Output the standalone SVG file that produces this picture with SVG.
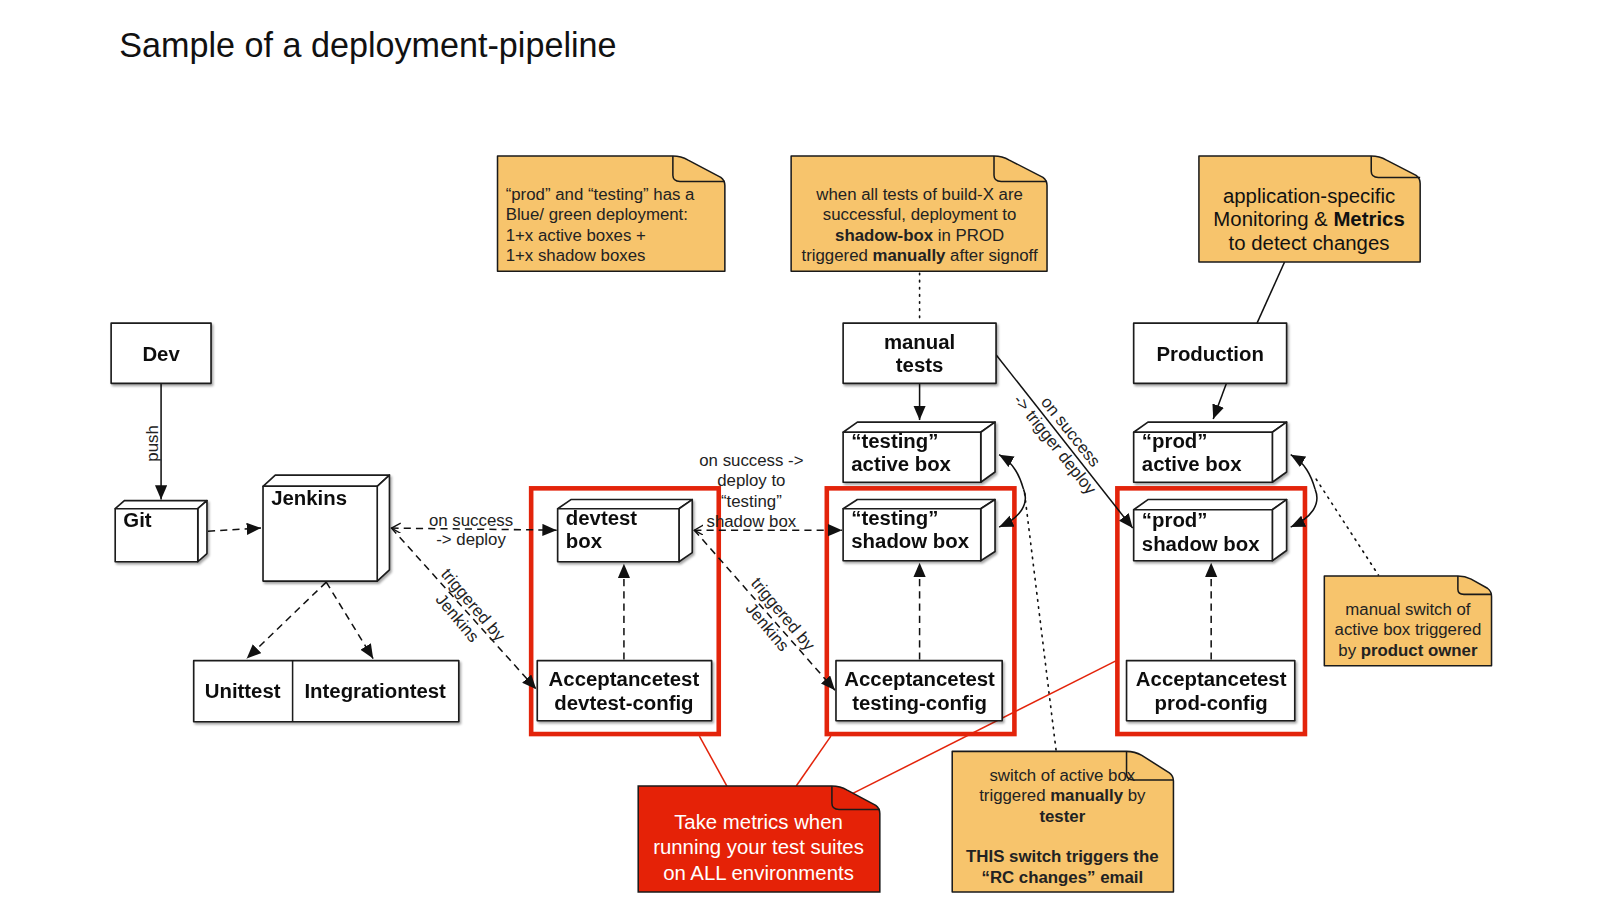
<svg xmlns="http://www.w3.org/2000/svg" width="1600" height="900" viewBox="0 0 1600 900">
<defs>
<filter id="sh" x="-10%" y="-10%" width="130%" height="130%"><feDropShadow dx="1.5" dy="2" stdDeviation="1.2" flood-color="#000" flood-opacity="0.35"/></filter>
<marker id="ah" markerUnits="userSpaceOnUse" markerWidth="15" markerHeight="13" refX="14" refY="6" orient="auto"><path d="M0,0 L14,6 L0,12 z" fill="#111"/></marker>
<marker id="oc" markerUnits="userSpaceOnUse" markerWidth="12" markerHeight="12" refX="9" refY="5" orient="auto-start-reverse"><path d="M0,0 L9,5 L0,10" fill="none" stroke="#111" stroke-width="1.3"/></marker>
<style>
.b{fill:#fff;stroke:#1a1a1a;stroke-width:1.6;stroke-linejoin:round}
.n{fill:#f7c46c;stroke:#1a1a1a;stroke-width:1.5;stroke-linejoin:round}
.f{fill:none;stroke:#1a1a1a;stroke-width:1.5}
.t{font-family:"Liberation Sans",Arial,sans-serif;font-weight:bold;font-size:20px;fill:#111}
.tc{font-family:"Liberation Sans",Arial,sans-serif;font-weight:bold;font-size:20px;fill:#111;text-anchor:middle}
.c{font-family:"Liberation Sans",Arial,sans-serif;font-size:16.5px;fill:#222}
.cm{font-family:"Liberation Sans",Arial,sans-serif;font-size:16.5px;fill:#222;text-anchor:middle}
.nb{font-family:"Liberation Sans",Arial,sans-serif;font-size:20px;text-anchor:middle}
.s{fill:none;stroke:#111;stroke-width:1.5}
.d{fill:none;stroke:#111;stroke-width:1.5;stroke-dasharray:7 5}
.o{fill:none;stroke:#111;stroke-width:1.6;stroke-dasharray:1.5 5.5;stroke-linecap:round}
.r{fill:none;stroke:#e3240b;stroke-width:4.5}
.rl{fill:none;stroke:#e3240b;stroke-width:1.5}
</style>
</defs>
<rect width="1600" height="900" fill="#fff"/>
<g id="diagram" transform="scale(1.0195)">
<text x="117" y="56" font-family="Liberation Sans, Arial, sans-serif" font-size="33.5" fill="#111">Sample of a deployment-pipeline</text>

<g id="redframes">
<rect class="r" x="521" y="479" width="184" height="241"/>
<rect class="r" x="811" y="479" width="184" height="241"/>
<rect class="r" x="1096" y="479" width="184" height="241"/>
</g>

<g id="connectors">
<path class="s" d="M158,376 V490" marker-end="url(#ah)"/>
<text class="cm" transform="translate(155,435) rotate(-90)">push</text>
<path class="d" d="M204,521 L256,518" marker-end="url(#ah)"/>
<path class="d" d="M320,571 L242,646" marker-end="url(#ah)"/>
<path class="d" d="M320,571 L366,646" marker-end="url(#ah)"/>
<path class="d" d="M384,518 L546,520" marker-start="url(#oc)" marker-end="url(#ah)"/>
<text class="cm" x="462" y="516">on success</text>
<text class="cm" x="462" y="535">-&gt; deploy</text>
<path class="d" d="M384,518 L526,676" marker-end="url(#ah)"/>
<g transform="translate(456,600) rotate(50)"><text class="cm" y="-5">triggered by</text><text class="cm" y="15">Jenkins</text></g>
<path class="d" d="M612,647 V553" marker-end="url(#ah)"/>
<path class="d" d="M681,520 H826" marker-start="url(#oc)" marker-end="url(#ah)"/>
<text class="cm" x="737" y="457">on success -&gt;</text>
<text class="cm" x="737" y="477">deploy to</text>
<text class="cm" x="737" y="497">“testing”</text>
<text class="cm" x="737" y="517">shadow box</text>
<path class="d" d="M681,520 L819,677" marker-end="url(#ah)"/>
<g transform="translate(760,609) rotate(50)"><text class="cm" y="-5">triggered by</text><text class="cm" y="15">Jenkins</text></g>
<path class="d" d="M902,647 V552" marker-end="url(#ah)"/>
<path class="s" d="M902,376 V412" marker-end="url(#ah)"/>
<path class="s" d="M977,348 L1111,518" marker-end="url(#ah)"/>
<g transform="translate(1042,430) rotate(51.5)"><text class="cm" y="-5">on success</text><text class="cm" y="15">-&gt; trigger deploy</text></g>
<path class="s" d="M1203,376 L1190,411" marker-end="url(#ah)"/>
<path class="d" d="M1188,647 V552" marker-end="url(#ah)"/>
<path class="s" d="M1004,480 C1010,495 1000,508 980,517" marker-end="url(#ah)"/>
<path class="s" d="M1004,480 C1000,466 994,454 980,446" marker-end="url(#ah)"/>
<path class="s" d="M1290,480 C1296,495 1286,508 1266,517" marker-end="url(#ah)"/>
<path class="s" d="M1290,480 C1286,466 1280,454 1266,446" marker-end="url(#ah)"/>
<path class="o" d="M902,268 V316"/>
<path class="s" d="M1260,257 L1233,317"/>
<path class="o" d="M1005,484 L1036,737"/>
<path class="o" d="M1291,470 L1352,564"/>
<path class="rl" d="M686,722 L713,771"/>
<path class="rl" d="M815,722 L781,771"/>
<path class="rl" d="M1095,648 L835,779"/>
</g>

<g id="dev" filter="url(#sh)"><rect class="b" x="109" y="317" width="98" height="59"/><text class="tc" x="158" y="354">Dev</text></g>

<g id="git" filter="url(#sh)">
<path class="b" d="M113,499 L122,491 H203 L194,499 Z"/>
<path class="b" d="M194,499 L203,491 V543 L194,551 Z"/>
<rect class="b" x="113" y="499" width="81" height="52"/>
<text class="t" x="121" y="517">Git</text>
</g>

<g id="jenkins" filter="url(#sh)">
<path class="b" d="M258,477 L270,466 H382 L370,477 Z"/>
<path class="b" d="M370,477 L382,466 V559 L370,570 Z"/>
<rect class="b" x="258" y="477" width="112" height="93"/>
<text class="t" x="266" y="495">Jenkins</text>
</g>

<g id="tests" filter="url(#sh)">
<rect class="b" x="190" y="648" width="260" height="60"/>
<path class="f" d="M287,648 V708"/>
<text class="tc" x="238" y="685">Unittest</text>
<text class="tc" x="368" y="685">Integrationtest</text>
</g>

<g id="devtest-box" filter="url(#sh)">
<path class="b" d="M547,499 L560,490 H679 L666,499 Z"/>
<path class="b" d="M666,499 L679,490 V542 L666,551 Z"/>
<rect class="b" x="547" y="499" width="119" height="52"/>
<text class="t" x="555" y="515">devtest</text>
<text class="t" x="555" y="538">box</text>
</g>

<g id="at-devtest" filter="url(#sh)">
<rect class="b" x="527" y="648" width="171" height="59"/>
<text class="tc" x="612" y="673">Acceptancetest</text>
<text class="tc" x="612" y="696">devtest-config</text>
</g>

<g id="manual-tests" filter="url(#sh)">
<rect class="b" x="827" y="317" width="150" height="59"/>
<text class="tc" x="902" y="342">manual</text>
<text class="tc" x="902" y="365">tests</text>
</g>

<g id="testing-active" filter="url(#sh)">
<path class="b" d="M827,424 L841,414 H976 L962,424 Z"/>
<path class="b" d="M962,424 L976,414 V463 L962,473 Z"/>
<rect class="b" x="827" y="424" width="135" height="49"/>
<text class="t" x="835" y="439">“testing”</text>
<text class="t" x="835" y="462">active box</text>
</g>

<g id="testing-shadow" filter="url(#sh)">
<path class="b" d="M827,499 L841,490 H976 L962,499 Z"/>
<path class="b" d="M962,499 L976,490 V541 L962,550 Z"/>
<rect class="b" x="827" y="499" width="135" height="51"/>
<text class="t" x="835" y="515">“testing”</text>
<text class="t" x="835" y="538">shadow box</text>
</g>

<g id="at-testing" filter="url(#sh)">
<rect class="b" x="820" y="648" width="163" height="59"/>
<text class="tc" x="902" y="673">Acceptancetest</text>
<text class="tc" x="902" y="696">testing-config</text>
</g>

<g id="production" filter="url(#sh)">
<rect class="b" x="1112" y="317" width="150" height="59"/>
<text class="tc" x="1187" y="354">Production</text>
</g>

<g id="prod-active" filter="url(#sh)">
<path class="b" d="M1112,424 L1126,414 H1262 L1248,424 Z"/>
<path class="b" d="M1248,424 L1262,414 V463 L1248,473 Z"/>
<rect class="b" x="1112" y="424" width="136" height="49"/>
<text class="t" x="1120" y="439">“prod”</text>
<text class="t" x="1120" y="462">active box</text>
</g>

<g id="prod-shadow" filter="url(#sh)">
<path class="b" d="M1112,500 L1126,490 H1262 L1248,500 Z"/>
<path class="b" d="M1248,500 L1262,490 V540 L1248,550 Z"/>
<rect class="b" x="1112" y="500" width="136" height="50"/>
<text class="t" x="1120" y="517">“prod”</text>
<text class="t" x="1120" y="540">shadow box</text>
</g>

<g id="at-prod" filter="url(#sh)">
<rect class="b" x="1105" y="648" width="165" height="59"/>
<text class="tc" x="1188" y="673">Acceptancetest</text>
<text class="tc" x="1188" y="696">prod-config</text>
</g>

<g id="note-bluegreen">
<path class="n" d="M488,153 H660 Q668,153 675,157 L707,174 Q711,177 711,182 V266 H488 Z"/>
<path class="f" d="M660,153 V172 Q660,178 667,178 H711"/>
<text class="c" x="496" y="196">“prod” and “testing” has a</text>
<text class="c" x="496" y="216">Blue/ green deployment:</text>
<text class="c" x="496" y="236">1+x active boxes +</text>
<text class="c" x="496" y="256">1+x shadow boxes</text>
</g>

<g id="note-shadowbox">
<path class="n" d="M776,153 H975 Q983,153 990,157 L1023,174 Q1027,177 1027,182 V266 H776 Z"/>
<path class="f" d="M975,153 V172 Q975,178 982,178 H1027"/>
<text class="cm" x="902" y="196">when all tests of build-X are</text>
<text class="cm" x="902" y="216">successful, deployment to</text>
<text class="cm" x="902" y="236"><tspan font-weight="bold">shadow-box</tspan> in PROD</text>
<text class="cm" x="902" y="256">triggered <tspan font-weight="bold">manually</tspan> after signoff</text>
</g>

<g id="note-metrics">
<path class="n" d="M1176,153 H1345 Q1353,153 1360,157 L1389,172 Q1393,175 1393,180 V257 H1176 Z"/>
<path class="f" d="M1345,153 V168 Q1345,174 1352,174 H1393"/>
<text class="nb" x="1284" y="199" fill="#111">application-specific</text>
<text class="nb" x="1284" y="222" fill="#111">Monitoring &amp; <tspan font-weight="bold">Metrics</tspan></text>
<text class="nb" x="1284" y="245" fill="#111">to detect changes</text>
</g>

<g id="note-productowner">
<path class="n" d="M1299,565 H1430 Q1437,565 1443,568 L1459,577 Q1463,580 1463,585 V653 H1299 Z"/>
<path class="f" d="M1430,565 V578 Q1430,583 1436,583 H1463"/>
<text class="cm" x="1381" y="603">manual switch of</text>
<text class="cm" x="1381" y="623">active box triggered</text>
<text class="cm" x="1381" y="643">by <tspan font-weight="bold">product owner</tspan></text>
</g>

<g id="note-metrics-all">
<path d="M626,771 H816 Q824,771 831,775 L859,790 Q863,793 863,798 V875 H626 Z" fill="#e52207" stroke="#1a1a1a" stroke-width="1.5"/>
<path class="f" d="M816,771 V788 Q816,794 823,794 H863"/>
<text class="nb" x="744" y="813" fill="#fff">Take metrics when</text>
<text class="nb" x="744" y="838" fill="#fff">running your test suites</text>
<text class="nb" x="744" y="863" fill="#fff">on ALL environments</text>
</g>

<g id="note-tester">
<path class="n" d="M934,737 H1105 Q1113,737 1120,741 L1147,758 Q1151,761 1151,766 V875 H934 Z"/>
<path class="f" d="M1105,737 V759 Q1105,765 1112,765 H1151"/>
<text class="cm" x="1042" y="766">switch of active box</text>
<text class="cm" x="1042" y="786">triggered <tspan font-weight="bold">manually</tspan> by</text>
<text class="cm" x="1042" y="806" font-weight="bold">tester</text>
<text class="cm" x="1042" y="846" font-weight="bold">THIS switch triggers the</text>
<text class="cm" x="1042" y="866" font-weight="bold">“RC changes” email</text>
</g>
</g>
</svg>
